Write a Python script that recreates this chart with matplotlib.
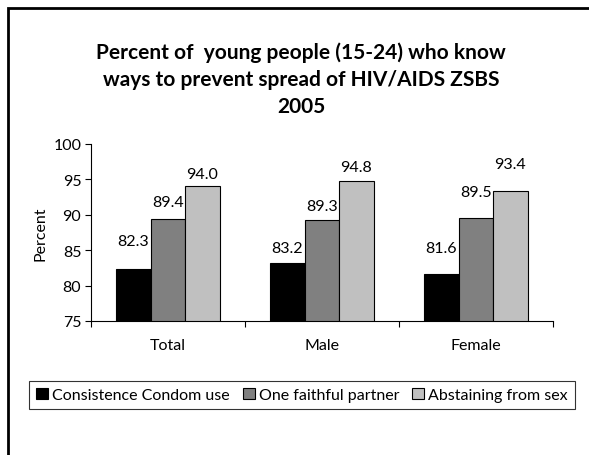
import matplotlib
matplotlib.use("Agg")
import matplotlib.pyplot as plt
import numpy as np
from matplotlib.patches import Rectangle

categories = ["Total", "Male", "Female"]
series_names = ["Consistence Condom use", "One faithful partner", "Abstaining from sex"]
condom = [82.3, 83.2, 81.6]
faithful = [89.4, 89.3, 89.5]
abstain = [94.0, 94.8, 93.4]
y_ticks = [75, 80, 85, 90, 95, 100]

series = [condom, faithful, abstain]
colors = ["#000000", "#808080", "#C0C0C0"]
# vertical gap (points) between each bar top and its value label
label_pad = [[15, 7, 4], [6, 5, 5], [14, 14, 14]]

plt.rcParams["font.family"] = ["Lato", "DejaVu Sans"]
FS = 11.5

fig = plt.figure(figsize=(5.89, 4.56), dpi=100)
ax = fig.add_axes([91 / 589, 1 - 322 / 456, (553 - 91) / 589, (322 - 145) / 456])

x = np.arange(len(categories))
width = 0.224
for i, (vals, col) in enumerate(zip(series, colors)):
    pos = x + (i - 1) * width
    bars = ax.bar(pos, vals, width=width, color=col, edgecolor="#000000",
                  linewidth=0.8, label=series_names[i], zorder=2)
    for j, (b, v) in enumerate(zip(bars, vals)):
        ax.annotate(f"{v:.1f}", (b.get_x() + b.get_width() / 2, v),
                    xytext=(0, label_pad[j][i]), textcoords="offset points",
                    ha="center", va="bottom", fontsize=FS)

ax.set_ylim(75, 100)
ax.set_xlim(-0.5, len(categories) - 0.5)
ax.set_yticks(y_ticks)
ax.set_yticklabels([str(t) for t in y_ticks], fontsize=FS)
ax.set_xticks(x)
ax.set_xticklabels(categories, fontsize=FS)
ax.tick_params(axis="x", which="major", length=0, pad=12)
ax.set_xticks(np.arange(len(categories) + 1) - 0.5, minor=True)
ax.tick_params(axis="x", which="minor", length=4, width=0.8, direction="out")
ax.tick_params(axis="y", length=4, width=0.8, direction="out", pad=3)
for s in ["top", "right"]:
    ax.spines[s].set_visible(False)
for s in ["left", "bottom"]:
    ax.spines[s].set_linewidth(0.8)
ax.set_ylabel("Percent", fontsize=FS, labelpad=4)

fig.text(301 / 589, 1 - 80 / 456,
         "Percent of  young people (15-24) who know\nways to prevent spread of HIV/AIDS ZSBS\n2005",
         ha="center", va="center", fontsize=15, fontweight="bold", linespacing=1.45)

leg = fig.legend(loc="center", bbox_to_anchor=((24 + 580) / 2 / 589, 1 - 396 / 456),
                 ncol=3, frameon=True, fancybox=False, fontsize=FS,
                 handlelength=0.75, handleheight=0.75, handletextpad=0.25,
                 columnspacing=0.8, borderpad=0.45, borderaxespad=0)
leg.get_frame().set_edgecolor("#000000")
leg.get_frame().set_linewidth(0.8)

fig.patches.append(Rectangle((8 / 589, -0.1), 1.2, (456 - 9) / 456 + 0.1,
                             transform=fig.transFigure, fill=False,
                             edgecolor="#000000", linewidth=2))

fig.savefig("out.png", dpi=100)
